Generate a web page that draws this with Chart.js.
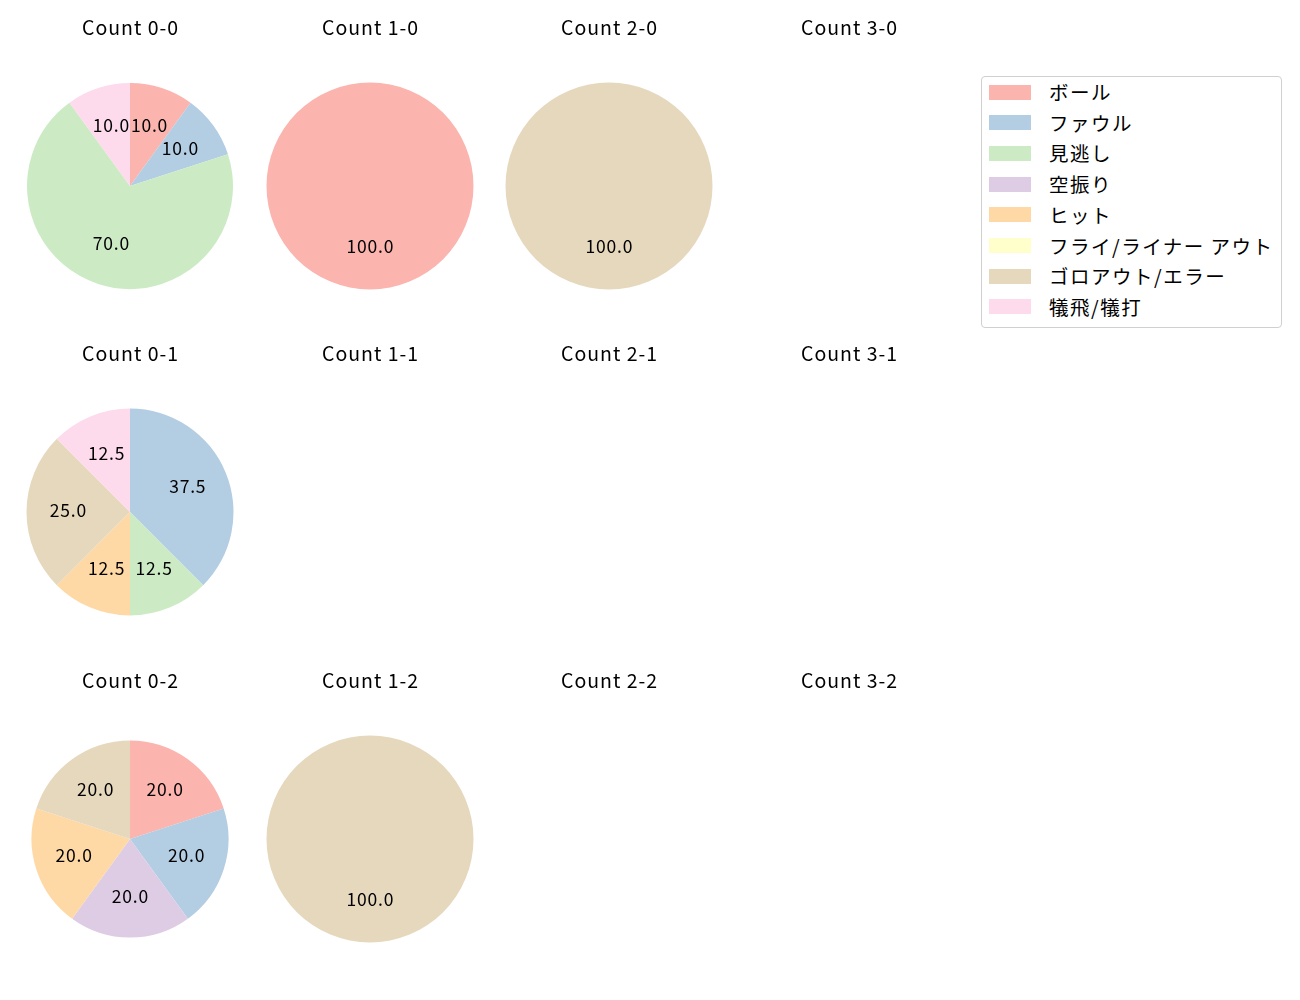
<!DOCTYPE html>
<html>
<head>
<meta charset="utf-8">
<script src="https://cdn.jsdelivr.net/npm/chart.js@4/dist/chart.umd.min.js"></script>
<style>
  html, body { margin: 0; padding: 0; background: #fff; }
  body { width: 1300px; height: 1000px; position: relative; overflow: hidden; font-family: "Noto Sans CJK JP", "Noto Sans", sans-serif; }
  canvas.cell { position: absolute; }
  #legend { position: absolute; left: 981px; top: 76px; width: 301px; height: 252px; border: 1px solid #d0d0d0; border-radius: 4px; box-sizing: border-box; background: #fff; }
  .lg-row { position: absolute; left: 7px; height: 20px; display: flex; align-items: center; }
  .lg-sw { width: 42px; height: 15px; margin-right: 18px; }
  .lg-tx { font-size: 19.5px; letter-spacing: 1.5px; color: #000; white-space: nowrap; line-height: 20px; }
</style>
</head>
<body>
<div id="legend"></div>
<script>
// ---- data ----
const categories = ["ボール", "ファウル", "見逃し", "空振り", "ヒット", "フライ/ライナー アウト", "ゴロアウト/エラー", "犠飛/犠打"];
const colors = ["#fbb4ae", "#b3cde3", "#ccebc5", "#decbe4", "#fed9a6", "#ffffcc", "#e5d8bd", "#fddaec"];
const cellTitles = ["Count 0-0", "Count 1-0", "Count 2-0", "Count 3-0",
                    "Count 0-1", "Count 1-1", "Count 2-1", "Count 3-1",
                    "Count 0-2", "Count 1-2", "Count 2-2", "Count 3-2"];
// percentages per category (order as categories)
const count00 = [10, 10, 70, 0, 0, 0, 0, 10];
const count10 = [100, 0, 0, 0, 0, 0, 0, 0];
const count20 = [0, 0, 0, 0, 0, 0, 100, 0];
const count30 = [];
const count01 = [0, 37.5, 12.5, 0, 12.5, 0, 25, 12.5];
const count11 = [];
const count21 = [];
const count31 = [];
const count02 = [20, 20, 0, 20, 20, 0, 20, 0];
const count12 = [0, 0, 0, 0, 0, 0, 100, 0];
const count22 = [];
const count32 = [];
const cellData = [count00, count10, count20, count30, count01, count11, count21, count31, count02, count12, count22, count32];

// ---- layout ----
const colX = [129.5, 369.5, 608.5, 849];
const rowY = [185.5, 512, 839];
const radii = [103, 103.5, 103.5, 103, 103.5, 103, 103, 103, 98.5, 103.5, 103, 103];
const CW = 240, CH = 320, CX = 120, CY = 170;
const TITLE_OFFSET = 158;
const FONT = '"Noto Sans CJK JP", "Noto Sans", sans-serif';

const cellPlugin = {
  id: 'cellDecor',
  afterDatasetsDraw(chart, args, opts) {
    const ctx = chart.ctx;
    const meta = chart.getDatasetMeta(0);
    ctx.save();
    ctx.fillStyle = '#000';
    ctx.textAlign = 'center';
    ctx.textBaseline = 'middle';
    ctx.font = '17.5px ' + FONT;
    if ('letterSpacing' in ctx) ctx.letterSpacing = '0.8px';
    const ds = chart.data.datasets[0];
    if (meta && meta.data) {
      meta.data.forEach((arc, i) => {
        const v = ds.data[i];
        if (!v) return;
        const mid = (arc.startAngle + arc.endAngle) / 2;
        const r = arc.outerRadius * 0.6;
        const x = arc.x + Math.cos(mid) * r + 0.4;
        const y = arc.y + Math.sin(mid) * r - 1.5;
        ctx.fillText(v.toFixed(1), x, y);
      });
    }
    ctx.font = '19.5px ' + FONT;
    if ('letterSpacing' in ctx) ctx.letterSpacing = '1px';
    ctx.fillText(opts.title, CX + 0.5, CY - TITLE_OFFSET);
    ctx.restore();
  }
};

cellData.forEach((vals, idx) => {
  const col = idx % 4, row = Math.floor(idx / 4);
  const cv = document.createElement('canvas');
  cv.className = 'cell';
  cv.width = CW; cv.height = CH;
  cv.style.width = CW + 'px'; cv.style.height = CH + 'px';
  cv.style.left = (colX[col] - CX) + 'px';
  cv.style.top = (rowY[row] - CY) + 'px';
  document.body.appendChild(cv);
  const r = radii[idx];
  new Chart(cv, {
    type: 'pie',
    data: {
      labels: vals.length ? categories : [],
      datasets: [{ data: vals, backgroundColor: colors, borderWidth: 0, hoverOffset: 0 }]
    },
    options: {
      responsive: false,
      animation: false,
      events: [],
      layout: { padding: { left: CX - r, right: CW - CX - r, top: CY - r, bottom: CH - CY - r } },
      plugins: {
        legend: { display: false },
        tooltip: { enabled: false },
        title: { display: false },
        cellDecor: { title: cellTitles[idx] }
      }
    },
    plugins: [cellPlugin]
  });
});

// legend (HTML text)
const lg = document.getElementById('legend');
categories.forEach((c, i) => {
  const row = document.createElement('div');
  row.className = 'lg-row';
  row.style.top = (5 + i * 30.7) + 'px';
  row.innerHTML = '<div class="lg-sw" style="background:' + colors[i] + '"></div><div class="lg-tx">' + c + '</div>';
  lg.appendChild(row);
});
</script>
</body>
</html>
